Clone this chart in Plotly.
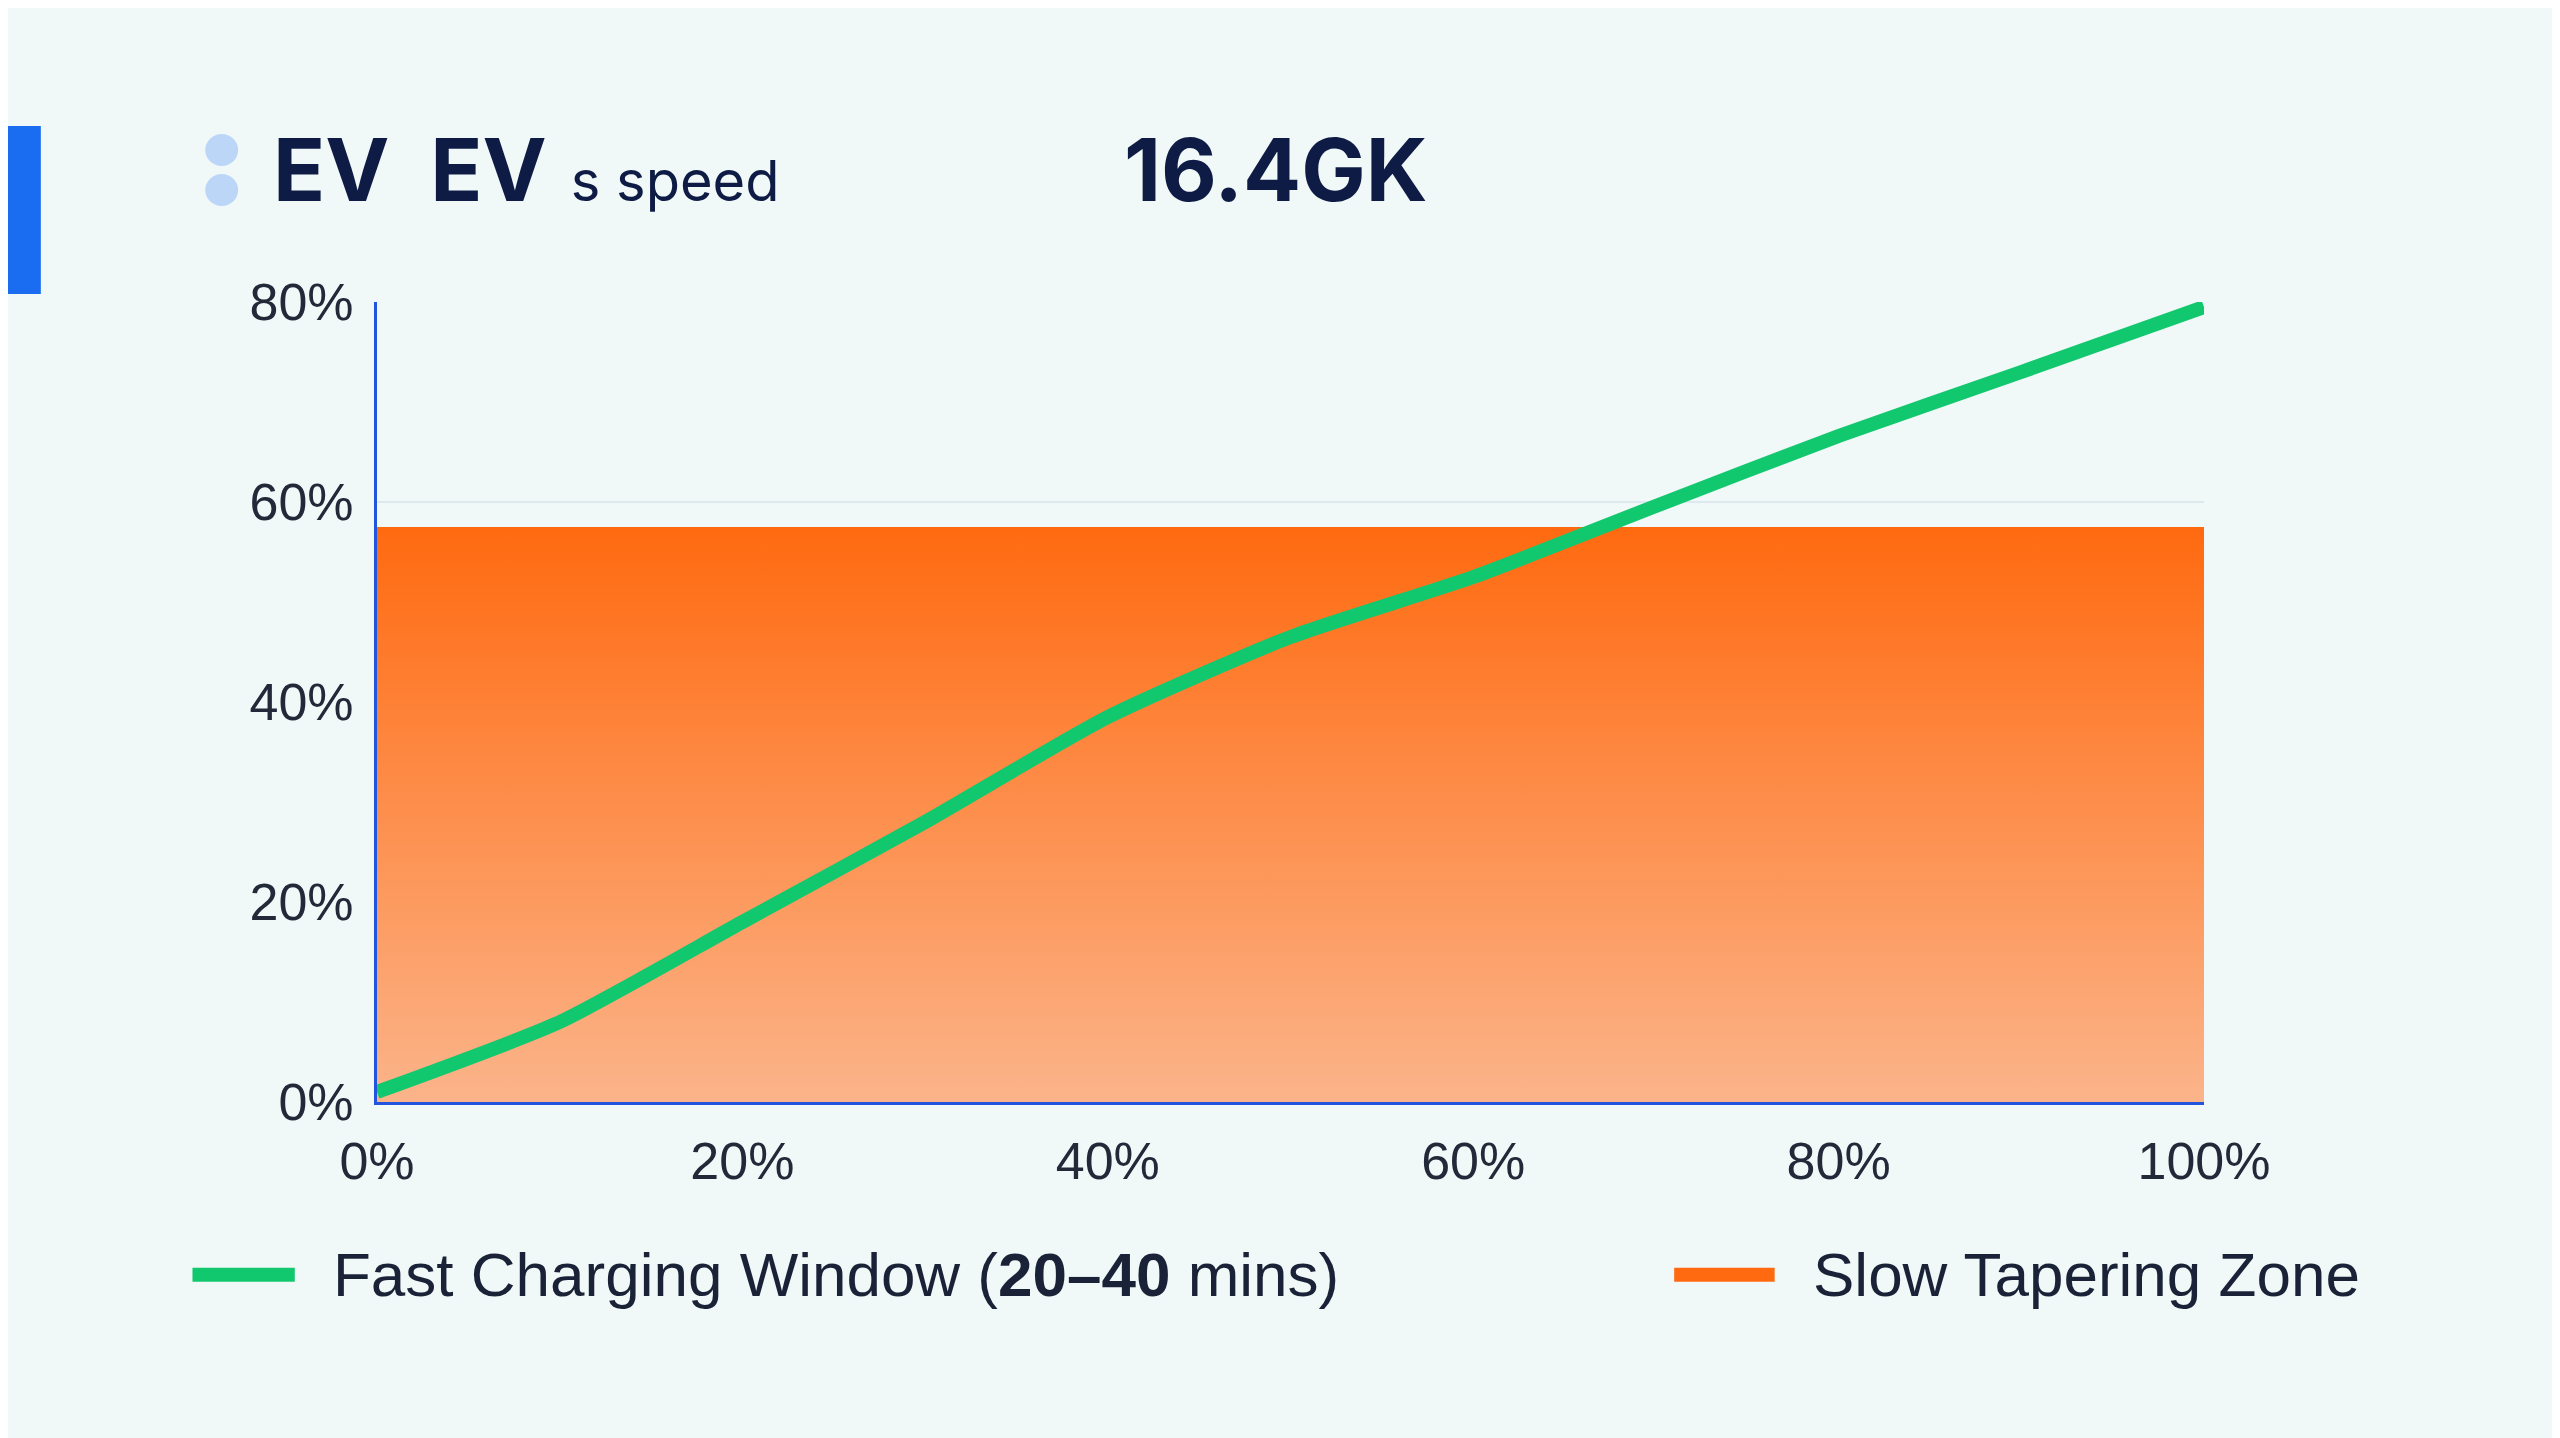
import plotly.graph_objects as go

# charge progress (x) vs battery level (y)
x_pct = [0, 10, 20, 30, 40, 50, 60, 70, 80, 90, 100]
fast_window = [1, 8, 18, 28, 38.5, 46.5, 52.5, 59.6, 66.6, 73, 79.5]
taper_x = [0, 100]
taper_level = [57.5, 57.5]
tick_vals = [0, 20, 40, 60, 80]
tick_text = ["0%", "20%", "40%", "60%", "80%"]
x_tick_vals = [0, 20, 40, 60, 80, 100]
x_tick_text = ["0%", "20%", "40%", "60%", "80%", "100%"]
legend_names = ["Fast Charging Window (<b>20–40</b> mins)", "Slow Tapering Zone"]

navy = "#0d1b45"
bg = "#f1f8f8"
green = "#12c86e"
orange = "#ff6a10"

fig = go.Figure()
fig.add_trace(go.Scatter(
    x=taper_x, y=taper_level, mode="lines", fill="tozeroy",
    line=dict(color=orange, width=0),
    fillgradient=dict(type="vertical",
                      colorscale=[[0, "#fbb48a"], [1, orange]]),
    showlegend=False))
fig.add_trace(go.Scatter(
    x=x_pct, y=fast_window, mode="lines",
    line=dict(color=green, width=14, shape="spline", smoothing=0.6),
    showlegend=False))

# decorations
fig.add_shape(type="rect", xref="paper", yref="paper", x0=-0.202, x1=-0.184,
              y0=1.01, y1=1.22, fillcolor="#1a6cf0", line_width=0)
for yy in [1.19, 1.14]:
    fig.add_shape(type="circle", xref="paper", yref="paper", x0=-0.094, x1=-0.076,
                  y0=yy - 0.02, y1=yy + 0.02, fillcolor="#bcd6f7", line_width=0)

fig.add_annotation(xref="paper", yref="paper", x=-0.058, y=1.165, xanchor="left",
                   yanchor="middle", showarrow=False,
                   text="<b>EV  EV</b> <span style='font-size:56px'>s speed</span>",
                   font=dict(size=86, color=navy, family="Inter"))
fig.add_annotation(xref="paper", yref="paper", x=0.408, y=1.165, xanchor="left",
                   yanchor="middle", showarrow=False, text="<b>16.4GK</b>",
                   font=dict(size=86, color=navy, family="Inter"))

# legend drawn by hand
for name, col, lx0, lx1, tx in [(legend_names[0], green, -0.101, -0.045, -0.025),
                                 (legend_names[1], orange, 0.710, 0.765, 0.785)]:
    fig.add_shape(type="line", xref="paper", yref="paper", x0=lx0, x1=lx1,
                  y0=-0.216, y1=-0.216, line=dict(color=col, width=14))
    fig.add_annotation(xref="paper", yref="paper", x=tx, y=-0.216, xanchor="left",
                       yanchor="middle", showarrow=False, text=name,
                       font=dict(size=62, color="#1a2238"))

fig.update_xaxes(range=[0, 100], tickvals=x_tick_vals, ticktext=x_tick_text,
                 showgrid=False, showline=True, linecolor="#2255dd", linewidth=3,
                 zeroline=False, ticks="", ticklabelstandoff=12)
fig.update_yaxes(range=[0, 80], tickvals=tick_vals, ticktext=tick_text,
                 gridcolor="#dde8ef", gridwidth=2, showline=True, linecolor="#2255dd",
                 linewidth=3, zeroline=False, ticks="", ticklabelstandoff=10)

fig.update_layout(
    width=2560, height=1438,
    paper_bgcolor=bg, plot_bgcolor=bg,
    margin=dict(l=369, r=364, t=294, b=344),
    font=dict(family="Liberation Sans, Arial", size=52, color="#222a3a"),
    showlegend=False,
)
fig.write_html("out.html")
